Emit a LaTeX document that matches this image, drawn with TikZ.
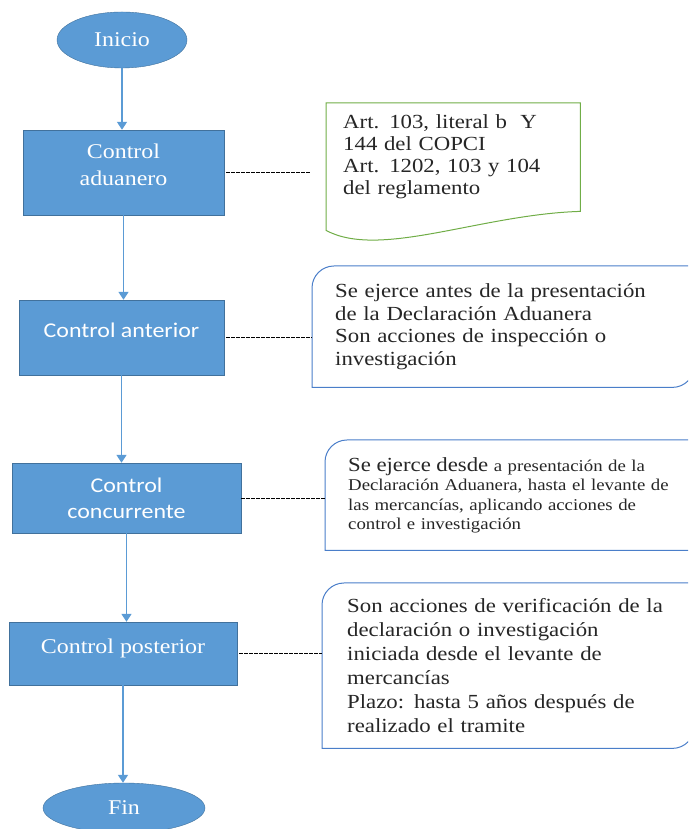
\documentclass[tikz,border=0pt]{standalone}
\usepackage{fontspec}
\setmainfont[FakeStretch=1.14]{Liberation Serif}
\newfontfamily\calibri[FakeStretch=1.14]{Carlito}
\usepackage{tikz}
\usetikzlibrary{positioning,shapes.geometric,arrows.meta,calc}
\definecolor{boxblue}{HTML}{5B9BD5}
\definecolor{boxedge}{HTML}{41719C}
\definecolor{notelin}{HTML}{4A7EC9}
\definecolor{notegreen}{HTML}{70AD47}
\definecolor{notetxt}{HTML}{262626}

\begin{document}
\begin{tikzpicture}[x=1pt,y=1pt]
\tikzset{
    term/.style={ellipse, draw=boxedge, fill=boxblue, text=white, minimum width=130pt, minimum height=56pt, inner sep=0pt, font=\fontsize{21}{25}\selectfont},
    proc/.style={rectangle, draw=boxedge, fill=boxblue, text=white, align=center, inner sep=0pt, font=\fontsize{21}{27}\selectfont},
    note/.style={rectangle, anchor=north west, align=left, inner ysep=0pt, text=notetxt, font=\fontsize{20}{22.5}\selectfont},
    flow/.style={draw=boxblue, line width=1.5pt, -{Triangle[width=10pt,length=8pt]}},
    link/.style={black, line width=0.8pt, dash pattern=on 3.5pt off 1.5pt}
}
\clip (0,0) rectangle (688,829);

\node[term] (ini) at (122,789) {Inicio};
\node[proc, minimum width=201pt, minimum height=85pt, text depth=16pt] (adu) at (123.5,656.5) {Control\\aduanero};
\node[proc, minimum width=205pt, minimum height=75pt, text depth=15pt, font=\calibri\fontsize{21}{26}\selectfont] (ant) at (121.5,491.5) {Control anterior};
\node[proc, minimum width=229pt, minimum height=70pt, font=\calibri\fontsize{21}{26}\selectfont] (con) at (126.5,331) {Control\\concurrente};
\node[proc, minimum width=228pt, minimum height=63pt, text depth=15pt] (pos) at (123,175.5) {Control posterior};
\node[term, minimum width=162pt, minimum height=50pt] (fin) at (124,21) {Fin};

% notas
\node[note, minimum width=254pt, minimum height=108pt, inner xsep=17pt, text width=220pt, font=\fontsize{20}{22}\selectfont] (reg) at (326,726)
    {Art. 103, literal b~ Y\\144 del COPCI\\Art. 1202, 103 y 104\\del reglamento};
\node[note, minimum width=382pt, minimum height=121pt, inner xsep=23pt, text width=336pt] (nant) at (312,563)
    {Se ejerce antes de la presentación\\de la Declaración Aduanera\\Son acciones de inspección o\\investigación};
\node[note, minimum width=369pt, minimum height=110pt, inner xsep=23pt, text width=345pt, font=\fontsize{16.5}{19.5}\selectfont] (ncon) at (325,389)
    {{\fontsize{20}{22}\selectfont Se ejerce desde} a presentación de la\\Declaración Aduanera, hasta el levante de\\las mercancías, aplicando acciones de\\control e investigación};
\node[note, minimum width=372pt, minimum height=165pt, inner xsep=25pt, text width=322pt, font=\fontsize{20}{24}\selectfont] (npos) at (322,246)
    {Son acciones de verificación de la\\declaración o investigación\\iniciada desde el levante de\\mercancías\\Plazo: hasta 5 años después de\\realizado el tramite};

\draw[notegreen, line width=1pt] (reg.north west) -- (reg.north east) -- (reg.south east)
    .. controls ($(reg.south east)+(-100,-3)$) and ($(reg.south west)+(54,-48)$) .. ($(reg.south west)+(0,-19)$) -- cycle;
\draw[notelin, line width=1pt] (nant.south west) -- ([yshift=-22pt]nant.north west) arc[start angle=180, end angle=90, radius=22pt]
    -- (nant.north east) -- ([yshift=22pt]nant.south east) arc[start angle=0, end angle=-90, radius=22pt] -- cycle;
\draw[notelin, line width=1pt] (ncon.south west) -- ([yshift=-22pt]ncon.north west) arc[start angle=180, end angle=90, radius=22pt]
    -- (ncon.north east) -- ([yshift=22pt]ncon.south east) arc[start angle=0, end angle=-90, radius=22pt] -- cycle;
\draw[notelin, line width=1pt] (npos.south west) -- ([yshift=-22pt]npos.north west) arc[start angle=180, end angle=90, radius=22pt]
    -- (npos.north east) -- ([yshift=22pt]npos.south east) arc[start angle=0, end angle=-90, radius=22pt] -- cycle;

\draw[flow] (ini.south) -- (ini.south |- adu.north);
\draw[flow] (adu.south) -- (adu.south |- ant.north);
\draw[flow] (ant.south) -- (ant.south |- con.north);
\draw[flow] (con.south) -- (con.south |- pos.north);
\draw[flow] (pos.south) -- (pos.south |- fin.north);

\draw[link, shorten <=2pt, shorten >=16pt] (adu.east) -- (adu.east -| reg.west);
\draw[link, shorten <=2pt] (ant.east) -- (ant.east -| nant.west);
\draw[link] (con.east) -- (con.east -| ncon.west);
\draw[link, shorten <=2pt] (pos.east) -- (pos.east -| npos.west);
\end{tikzpicture}
\end{document}
